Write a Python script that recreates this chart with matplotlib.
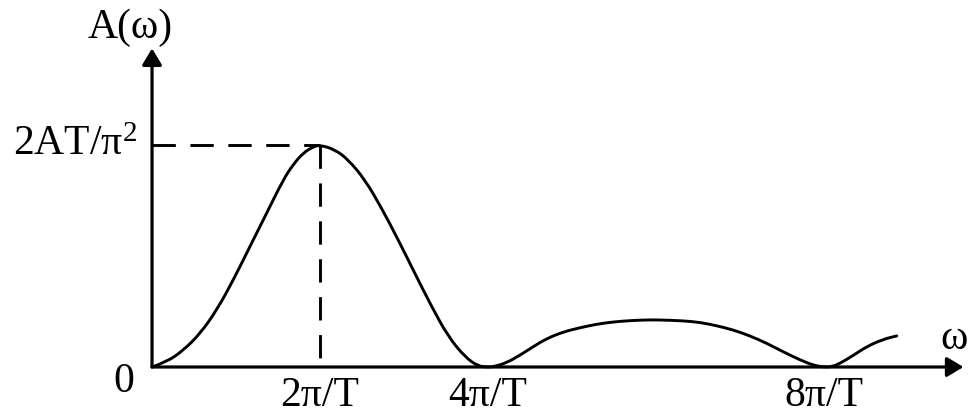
import numpy as np
import matplotlib.pyplot as plt
from matplotlib.path import Path
from matplotlib.patches import PathPatch

plt.rcParams['font.family'] = ['Liberation Serif', 'DejaVu Serif']
plt.rcParams['mathtext.fontset'] = 'custom'
plt.rcParams['mathtext.rm'] = 'Liberation Serif'
plt.rcParams['mathtext.it'] = 'Liberation Serif:italic'

# omega in units of 2*pi/T, A in units of 2AT/pi^2
omega = [0.0, 0.088, 0.186, 0.286, 0.385, 0.484, 0.583, 0.683, 0.782, 0.841, 0.901, 0.960, 1.0,
         1.089, 1.168, 1.268, 1.367, 1.466, 1.565, 1.665, 1.764, 1.863, 1.942, 2.0,
         2.032, 2.111, 2.190, 2.270, 2.349, 2.448, 2.548, 2.647, 2.746, 2.845, 2.945, 3.024,
         3.163, 3.262, 3.361, 3.460, 3.560, 3.659, 3.758, 3.857, 3.936, 3.996,
         4.046, 4.095, 4.174, 4.254, 4.353, 4.433]
amp = [0.0, 0.023, 0.075, 0.150, 0.256, 0.392, 0.543, 0.694, 0.845, 0.913, 0.965, 0.992, 1.0,
       0.979, 0.934, 0.843, 0.715, 0.572, 0.421, 0.271, 0.136, 0.045, 0.003, 0.0,
       0.001, 0.019, 0.053, 0.092, 0.128, 0.158, 0.177, 0.193, 0.203, 0.209, 0.212, 0.212,
       0.208, 0.201, 0.186, 0.167, 0.140, 0.107, 0.068, 0.032, 0.008, 0.0,
       0.001, 0.016, 0.052, 0.092, 0.125, 0.140]

peak_x = 1.0
peak_y = 1.0
xticks = [1.0, 2.0, 4.0]
xtick_labels = ['2π/T', '4π/T', '8π/T']

fig = plt.figure(figsize=(9.72, 4.16), dpi=100)
ax = fig.add_axes([0, 0, 1, 1])
ax.set_xlim(-0.905, 4.881)
ax.set_ylim(-0.2207, 1.653)
ax.axis('off')

# axes with arrows
arrow = dict(arrowstyle='-|>,head_length=0.5,head_width=0.3', lw=2.3,
             color='k', shrinkA=0, shrinkB=0, mutation_scale=20)
ax.annotate('', xy=(4.83, 0), xytext=(0, 0), arrowprops=arrow)
ax.annotate('', xy=(0, 1.435), xytext=(0, 0), arrowprops=arrow)

# dashed guides to the peak
ax.plot([0, peak_x], [peak_y, peak_y], color='k', lw=2.1, dashes=(8, 5))
ax.plot([peak_x, peak_x], [peak_y, 0], color='k', lw=2.1, dashes=(8, 5))

# smooth curve: read points used as quadratic control points
pts = np.column_stack([omega, amp])
verts = [pts[0]]
codes = [Path.MOVETO]
for i in range(1, len(pts) - 1):
    verts += [pts[i], (pts[i] + pts[i + 1]) / 2]
    codes += [Path.CURVE3, Path.CURVE3]
verts.append(pts[-1])
codes.append(Path.LINETO)
ax.add_patch(PathPatch(Path(verts, codes), fill=False, lw=2.1, color='k',
                       capstyle='round'))

fs = 30
for xv, lab in zip(xticks, xtick_labels):
    ax.text(xv, -0.128, lab, ha='center', va='center', fontsize=fs)
ax.text(-0.17, -0.068, '0', ha='center', va='center', fontsize=fs)
ax.text(-0.09, peak_y, '2AT/π$^2$', ha='right', va='center', fontsize=fs)
ax.text(-0.13, 1.53, 'A(ω)', ha='center', va='center', fontsize=fs)
ax.text(4.69, 0.125, 'ω', ha='left', va='center', fontsize=fs)

fig.savefig('out.png', dpi=100)
